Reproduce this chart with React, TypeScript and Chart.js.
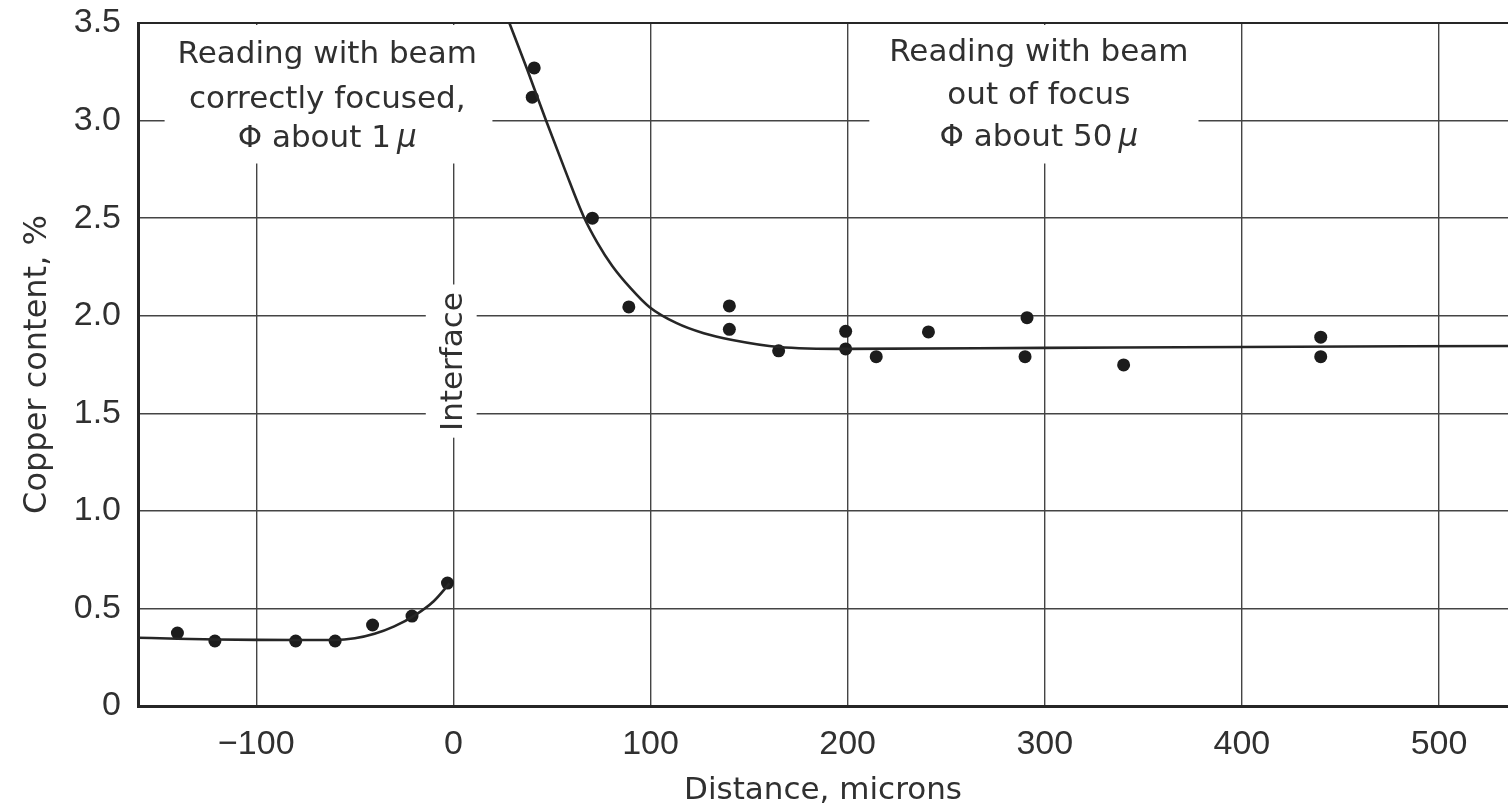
import React, { useEffect, useRef } from "react";
import { Chart, registerables } from "chart.js";

Chart.register(...registerables);

// ---- Axis ticks ----
const xTickValues = [-100, 0, 100, 200, 300, 400, 500];
const xTickLabels = ["\u2212100", "0", "100", "200", "300", "400", "500"];
const yTickValues = [0, 0.5, 1, 1.5, 2, 2.5, 3, 3.5];
const yTickLabels = ["0", "0.5", "1.0", "1.5", "2.0", "2.5", "3.0", "3.5"];

// ---- Measured points: beam correctly focused (left of interface) ----
const focusedX = [-140, -121, -80, -60, -41, -21, -3];
const focusedY = [0.374, 0.333, 0.333, 0.333, 0.415, 0.461, 0.63];

// ---- Measured points: beam out of focus (right of interface) ----
const unfocusedX = [40, 41, 70.5, 89, 140, 140, 165, 199, 199, 214.5, 241, 291, 290, 340, 440, 440];
const unfocusedY = [3.12, 3.27, 2.5, 2.045, 2.05, 1.93, 1.82, 1.92, 1.83, 1.79, 1.917, 1.99, 1.79, 1.748, 1.89, 1.79];

// ---- Fitted curve, left ----
const fitLeftX = [-160, -140, -120, -100, -80, -60, -50, -40, -30, -20, -10, -2];
const fitLeftY = [0.35, 0.345, 0.341, 0.339, 0.338, 0.338, 0.347, 0.37, 0.408, 0.462, 0.537, 0.628];

// ---- Fitted curve, right ----
const fitRightX = [28.4, 37.5, 47, 56.5, 66, 73, 80.6, 90, 99.4, 113, 127, 141.5, 165, 200, 300, 400, 535];
const fitRightY = [3.5, 3.26, 3.0, 2.75, 2.51, 2.375, 2.255, 2.14, 2.045, 1.963, 1.91, 1.876, 1.84, 1.83, 1.835, 1.84, 1.845];

// ---- Annotation text ----
const leftNote = ["Reading with beam", "correctly focused,", "\u03A6 about 1\u2009", "\u03BC"];
const rightNote = ["Reading with beam", "out of focus", "\u03A6 about 50\u2009", "\u03BC"];
const interfaceLabel = "Interface";

const INK = "#262626";
const TEXT = "#303030";
const TEXT_FONT = '"DejaVu Sans", sans-serif';
const TICK_FONT = '"Liberation Sans", Arial, sans-serif';

function toXY(xs: number[], ys: number[]) {
  return xs.map((x, i) => ({ x, y: ys[i] }));
}

const notesPlugin = {
  id: "notes",
  beforeDatasetsDraw(chart: any) {
    const { ctx, chartArea, scales } = chart;
    const sx = scales.x;
    const sy = scales.y;
    ctx.save();
    // white boxes masking the grid behind the labels
    ctx.fillStyle = "#ffffff";
    const box = (x0: number, x1: number, y0: number, y1: number) => {
      const px0 = sx.getPixelForValue(x0);
      const px1 = sx.getPixelForValue(x1);
      const py0 = Math.max(sy.getPixelForValue(y0), chartArea.top + 2);
      const py1 = sy.getPixelForValue(y1);
      ctx.fillRect(px0, py0, px1 - px0, py1 - py0);
    };
    box(-146.5, 19.8, 3.5, 2.78);
    box(211, 378, 3.5, 2.78);
    box(-14, 11.8, 2.16, 1.375);

    // top frame line
    ctx.strokeStyle = INK;
    ctx.lineWidth = 2.2;
    ctx.beginPath();
    ctx.moveTo(chartArea.left, chartArea.top);
    ctx.lineTo(chartArea.right, chartArea.top);
    ctx.stroke();

    ctx.fillStyle = TEXT;
    ctx.textBaseline = "alphabetic";
    const drawNote = (lines: string[], cx: number, baselines: number[]) => {
      const px = sx.getPixelForValue(cx);
      ctx.textAlign = "center";
      ctx.font = `31px ${TEXT_FONT}`;
      ctx.fillText(lines[0], px, chartArea.top + baselines[0]);
      ctx.fillText(lines[1], px, chartArea.top + baselines[1]);
      ctx.font = `31px ${TEXT_FONT}`;
      const w1 = ctx.measureText(lines[2]).width;
      ctx.font = `italic 31px ${TEXT_FONT}`;
      const w2 = ctx.measureText(lines[3]).width;
      const start = px - (w1 + w2) / 2;
      ctx.textAlign = "left";
      ctx.font = `31px ${TEXT_FONT}`;
      ctx.fillText(lines[2], start, chartArea.top + baselines[2]);
      ctx.font = `italic 31px ${TEXT_FONT}`;
      ctx.fillText(lines[3], start + w1, chartArea.top + baselines[2]);
    };
    drawNote(leftNote, -64, [40, 85, 124]);
    drawNote(rightNote, 297, [38, 81, 123]);

    // Interface label (rotated)
    ctx.save();
    ctx.translate(sx.getPixelForValue(0.2), sy.getPixelForValue(1.765));
    ctx.rotate(-Math.PI / 2);
    ctx.textAlign = "center";
    ctx.textBaseline = "middle";
    ctx.font = `31px ${TEXT_FONT}`;
    ctx.fillText(interfaceLabel, 0, 0);
    ctx.restore();

    ctx.restore();
  },
};

export default function App() {
  const canvasRef = useRef<HTMLCanvasElement | null>(null);

  useEffect(() => {
    document.body.style.margin = "0";
    const canvas = canvasRef.current;
    if (!canvas) return;
    const chart = new Chart(canvas, {
      type: "scatter",
      data: {
        datasets: [
          {
            label: "fit left",
            data: toXY(fitLeftX, fitLeftY),
            showLine: true,
            borderColor: INK,
            borderWidth: 2.6,
            pointRadius: 0,
            cubicInterpolationMode: "monotone",
            fill: false,
          },
          {
            label: "fit right",
            data: toXY(fitRightX, fitRightY),
            showLine: true,
            borderColor: INK,
            borderWidth: 2.6,
            pointRadius: 0,
            cubicInterpolationMode: "monotone",
            fill: false,
          },
          {
            label: "focused",
            data: toXY(focusedX, focusedY),
            showLine: false,
            pointRadius: 6.5,
            pointBackgroundColor: "#1c1c1c",
            pointBorderWidth: 0,
          },
          {
            label: "out of focus",
            data: toXY(unfocusedX, unfocusedY),
            showLine: false,
            pointRadius: 6.5,
            pointBackgroundColor: "#1c1c1c",
            pointBorderWidth: 0,
          },
        ],
      },
      options: {
        responsive: false,
        animation: false,
        layout: { autoPadding: false, padding: { top: 23, right: 0, left: 0, bottom: 0 } },
        plugins: {
          legend: { display: false },
          tooltip: { enabled: false },
        },
        scales: {
          x: {
            type: "linear",
            min: -160,
            max: 535,
            afterBuildTicks: (axis: any) => {
              axis.ticks = xTickValues.map((v) => ({ value: v }));
            },
            afterFit: (axis: any) => {
              axis.height = 102;
              axis.paddingLeft = 0;
              axis.paddingRight = 0;
            },
            ticks: {
              autoSkip: false,
              maxRotation: 0,
              padding: 18,
              color: TEXT,
              font: { family: TICK_FONT, size: 34 },
              callback: (v: any) => {
                const i = xTickValues.indexOf(Number(v));
                return i >= 0 ? xTickLabels[i] : "";
              },
            },
            grid: { color: "#444444", lineWidth: 1.4, drawTicks: false },
            border: { display: true, color: INK, width: 3 },
            title: {
              display: true,
              text: "Distance, microns",
              color: TEXT,
              font: { family: TEXT_FONT, size: 31 },
              padding: { top: 0, bottom: -2 },
            },
          },
          y: {
            type: "linear",
            min: 0,
            max: 3.5,
            afterBuildTicks: (axis: any) => {
              axis.ticks = yTickValues.map((v) => ({ value: v }));
            },
            afterFit: (axis: any) => {
              axis.width = 138;
              axis.paddingTop = 0;
              axis.paddingBottom = 0;
            },
            ticks: {
              autoSkip: false,
              padding: 17,
              color: TEXT,
              font: { family: TICK_FONT, size: 34 },
              callback: (v: any) => {
                const i = yTickValues.indexOf(Number(v));
                return i >= 0 ? yTickLabels[i] : "";
              },
            },
            grid: { color: "#444444", lineWidth: 1.4, drawTicks: false },
            border: { display: true, color: INK, width: 3 },
            title: {
              display: true,
              text: "Copper content, %",
              color: TEXT,
              font: { family: TEXT_FONT, size: 32 },
              padding: { top: 18, bottom: 0 },
            },
          },
        },
      },
      plugins: [notesPlugin],
    } as any);
    return () => chart.destroy();
  }, []);

  return (
    <div style={{ position: "absolute", left: 0, top: 0, width: 1508, height: 808, background: "#fff" }}>
      <canvas ref={canvasRef} width={1508} height={808} style={{ display: "block" }} />
    </div>
  );
}
